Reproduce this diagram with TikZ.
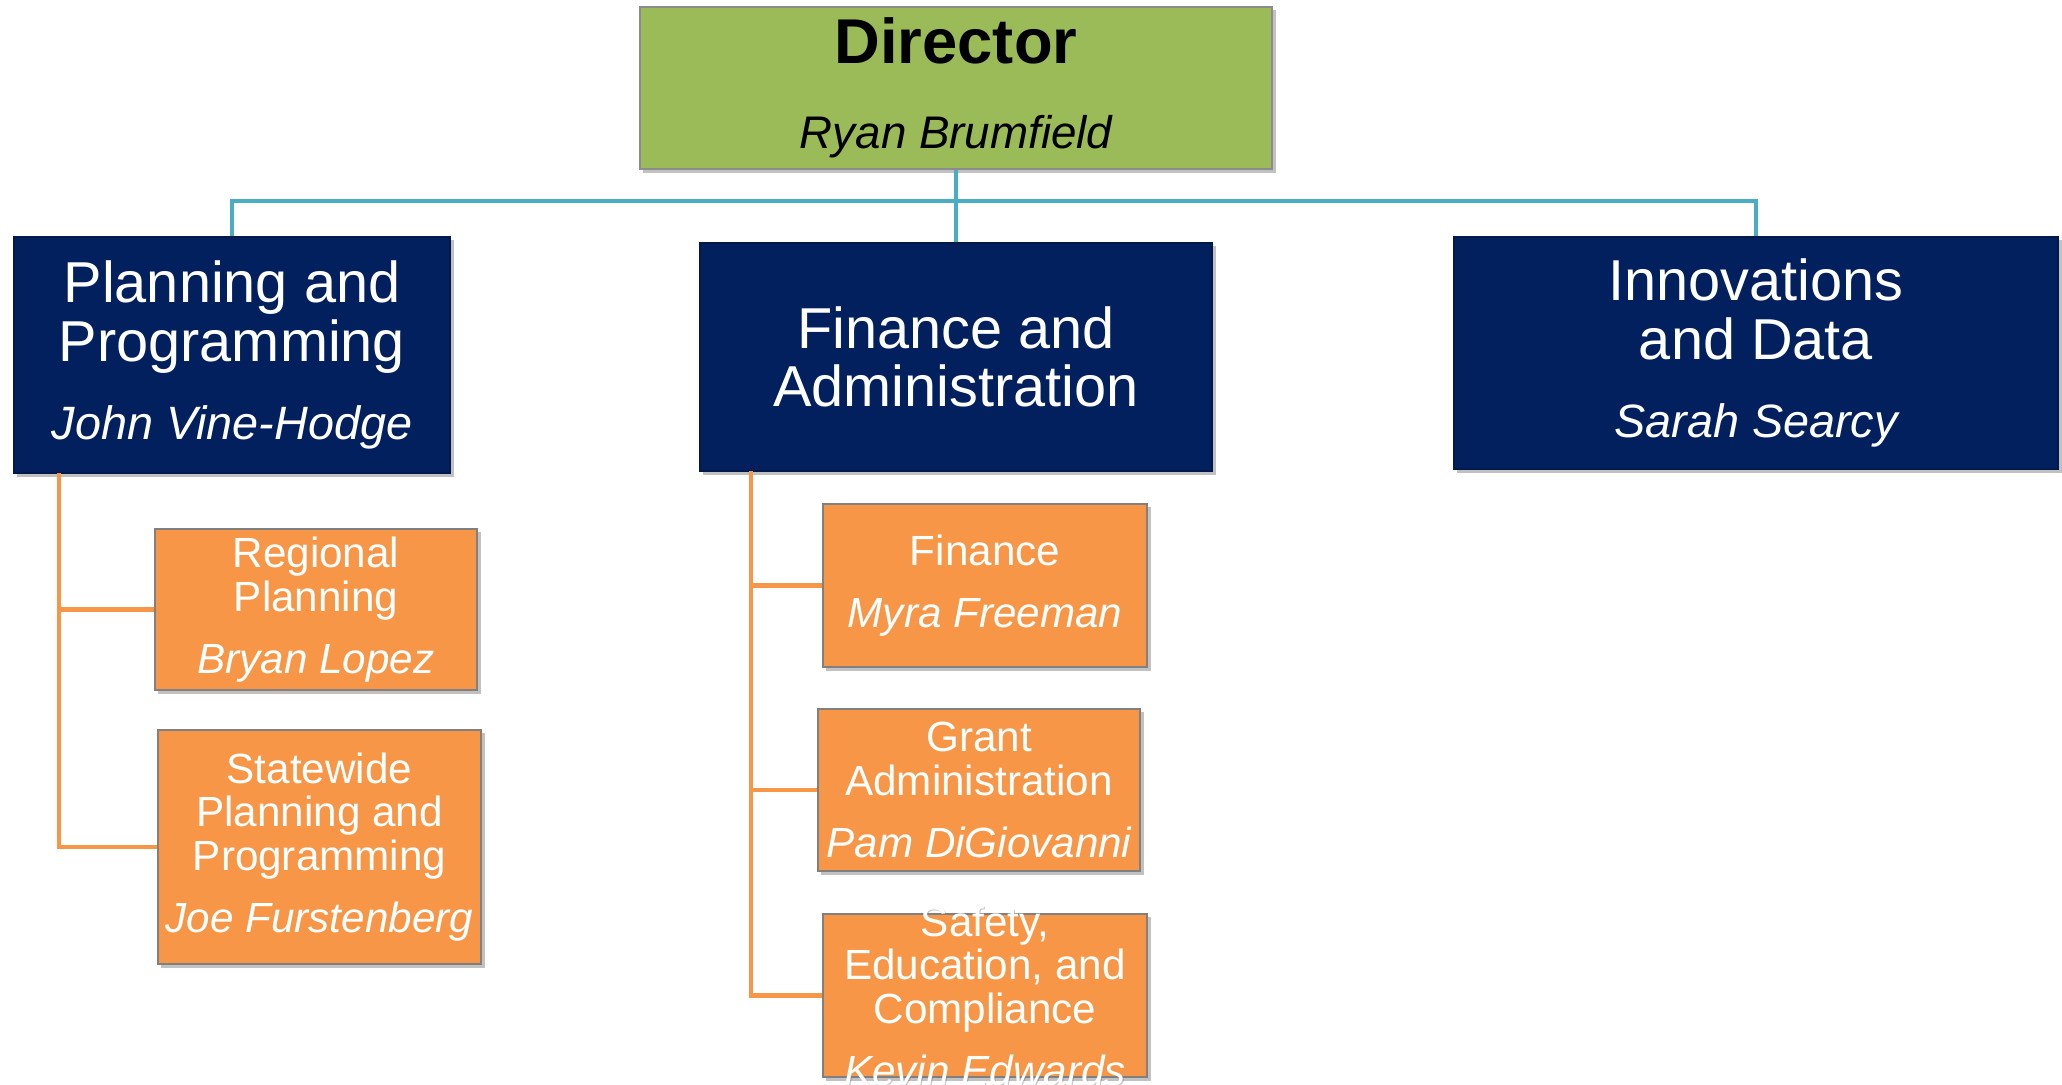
\documentclass[tikz,border=0pt]{standalone}
\usepackage{fontspec}
\setmainfont{Liberation Sans}
\usetikzlibrary{shadows}
\definecolor{dirgreen}{HTML}{9BBB59}
\definecolor{deptnavy}{HTML}{03205E}
\definecolor{unitorange}{HTML}{F79646}
\definecolor{buscyan}{HTML}{4BACC6}

\begin{document}
\begin{tikzpicture}[x=0.01cm,y=-0.01cm,
  box/.style={draw=black!45, line width=0.4pt, inner sep=0pt, align=center,
    drop shadow={shadow xshift=1pt, shadow yshift=-1pt, opacity=0.35, fill=black!70}},
  topbox/.style={box, fill=dirgreen, font=\fontsize{13}{15}\selectfont},
  deptbox/.style={box, fill=deptnavy, draw=deptnavy!80!black, text=white, font=\fontsize{16.4}{16.7}\selectfont},
  unitbox/.style={box, fill=unitorange, draw=black!50, text=white, font=\fontsize{12}{12.4}\selectfont},
  ghost/.style={align=center, inner sep=0pt, text=black!22, font=\fontsize{12}{12.4}\selectfont},
  bus/.style={draw=buscyan, line width=1.2pt},
  spine/.style={draw=unitorange, line width=1.2pt}]

\clip (0,0) rectangle (2062,1085);

% Director
\node[topbox, minimum width=6.32cm, minimum height=1.62cm] (dir) at (956,88)
  {{\fontsize{18}{18}\selectfont\bfseries Director}\\[9pt]{\itshape Ryan Brumfield}};

% Departments
\node[deptbox, minimum width=4.36cm, minimum height=2.36cm] (plan) at (232,355)
  {Planning and\\Programming\\[5.5pt]{\fontsize{13.3}{16.7}\selectfont\itshape John Vine-Hodge}};
\node[deptbox, minimum width=5.12cm, minimum height=2.28cm] (fin) at (956,357)
  {Finance and\\Administration};
\node[deptbox, minimum width=6.04cm, minimum height=2.32cm] (inno) at (1756,353)
  {Innovations\\and Data\\[5.5pt]{\fontsize{13.3}{16.7}\selectfont\itshape Sarah Searcy}};

% Units under Planning and Programming
\node[unitbox, minimum width=3.22cm, minimum height=1.61cm] (reg) at (316,609.5)
  {Regional\\Planning\\[5.2pt]{\itshape Bryan Lopez}};
\node[unitbox, minimum width=3.23cm, minimum height=2.34cm] (state) at (319.5,847)
  {Statewide\\Planning and\\Programming\\[5.2pt]{\itshape Joe Furstenberg}};

% Units under Finance and Administration
\node[unitbox, minimum width=3.24cm, minimum height=1.63cm] (fsub) at (985,585.5)
  {Finance\\[5.2pt]{\itshape Myra Freeman}};
\node[unitbox, minimum width=3.22cm, minimum height=1.62cm] (grant) at (979,790)
  {Grant\\Administration\\[5.2pt]{\itshape Pam DiGiovanni}};
\node[ghost] (safetyshade) at (986,997)
  {Safety,\\Education, and\\Compliance\\[5.2pt]{\itshape Kevin Edwards}};
\node[unitbox, minimum width=3.24cm, minimum height=1.63cm] (safety) at (985,995.5) {};
\node[ghost, text=white] (safetytext) at (safety.center)
  {Safety,\\Education, and\\Compliance\\[5.2pt]{\itshape Kevin Edwards}};

% Connectors
\coordinate (hub) at (956,201);
\coordinate (pspine) at (59,473);
\coordinate (fspine) at (751,471);
\draw[bus] (dir.south) -- (fin.north);
\draw[bus] (plan.north) |- (hub) -| (inno.north);
\draw[spine] (pspine) |- (reg.west);
\draw[spine] (pspine) |- (state.west);
\draw[spine] (fspine) |- (fsub.west);
\draw[spine] (fspine) |- (grant.west);
\draw[spine] (fspine) |- (safety.west);

\end{tikzpicture}
\end{document}
